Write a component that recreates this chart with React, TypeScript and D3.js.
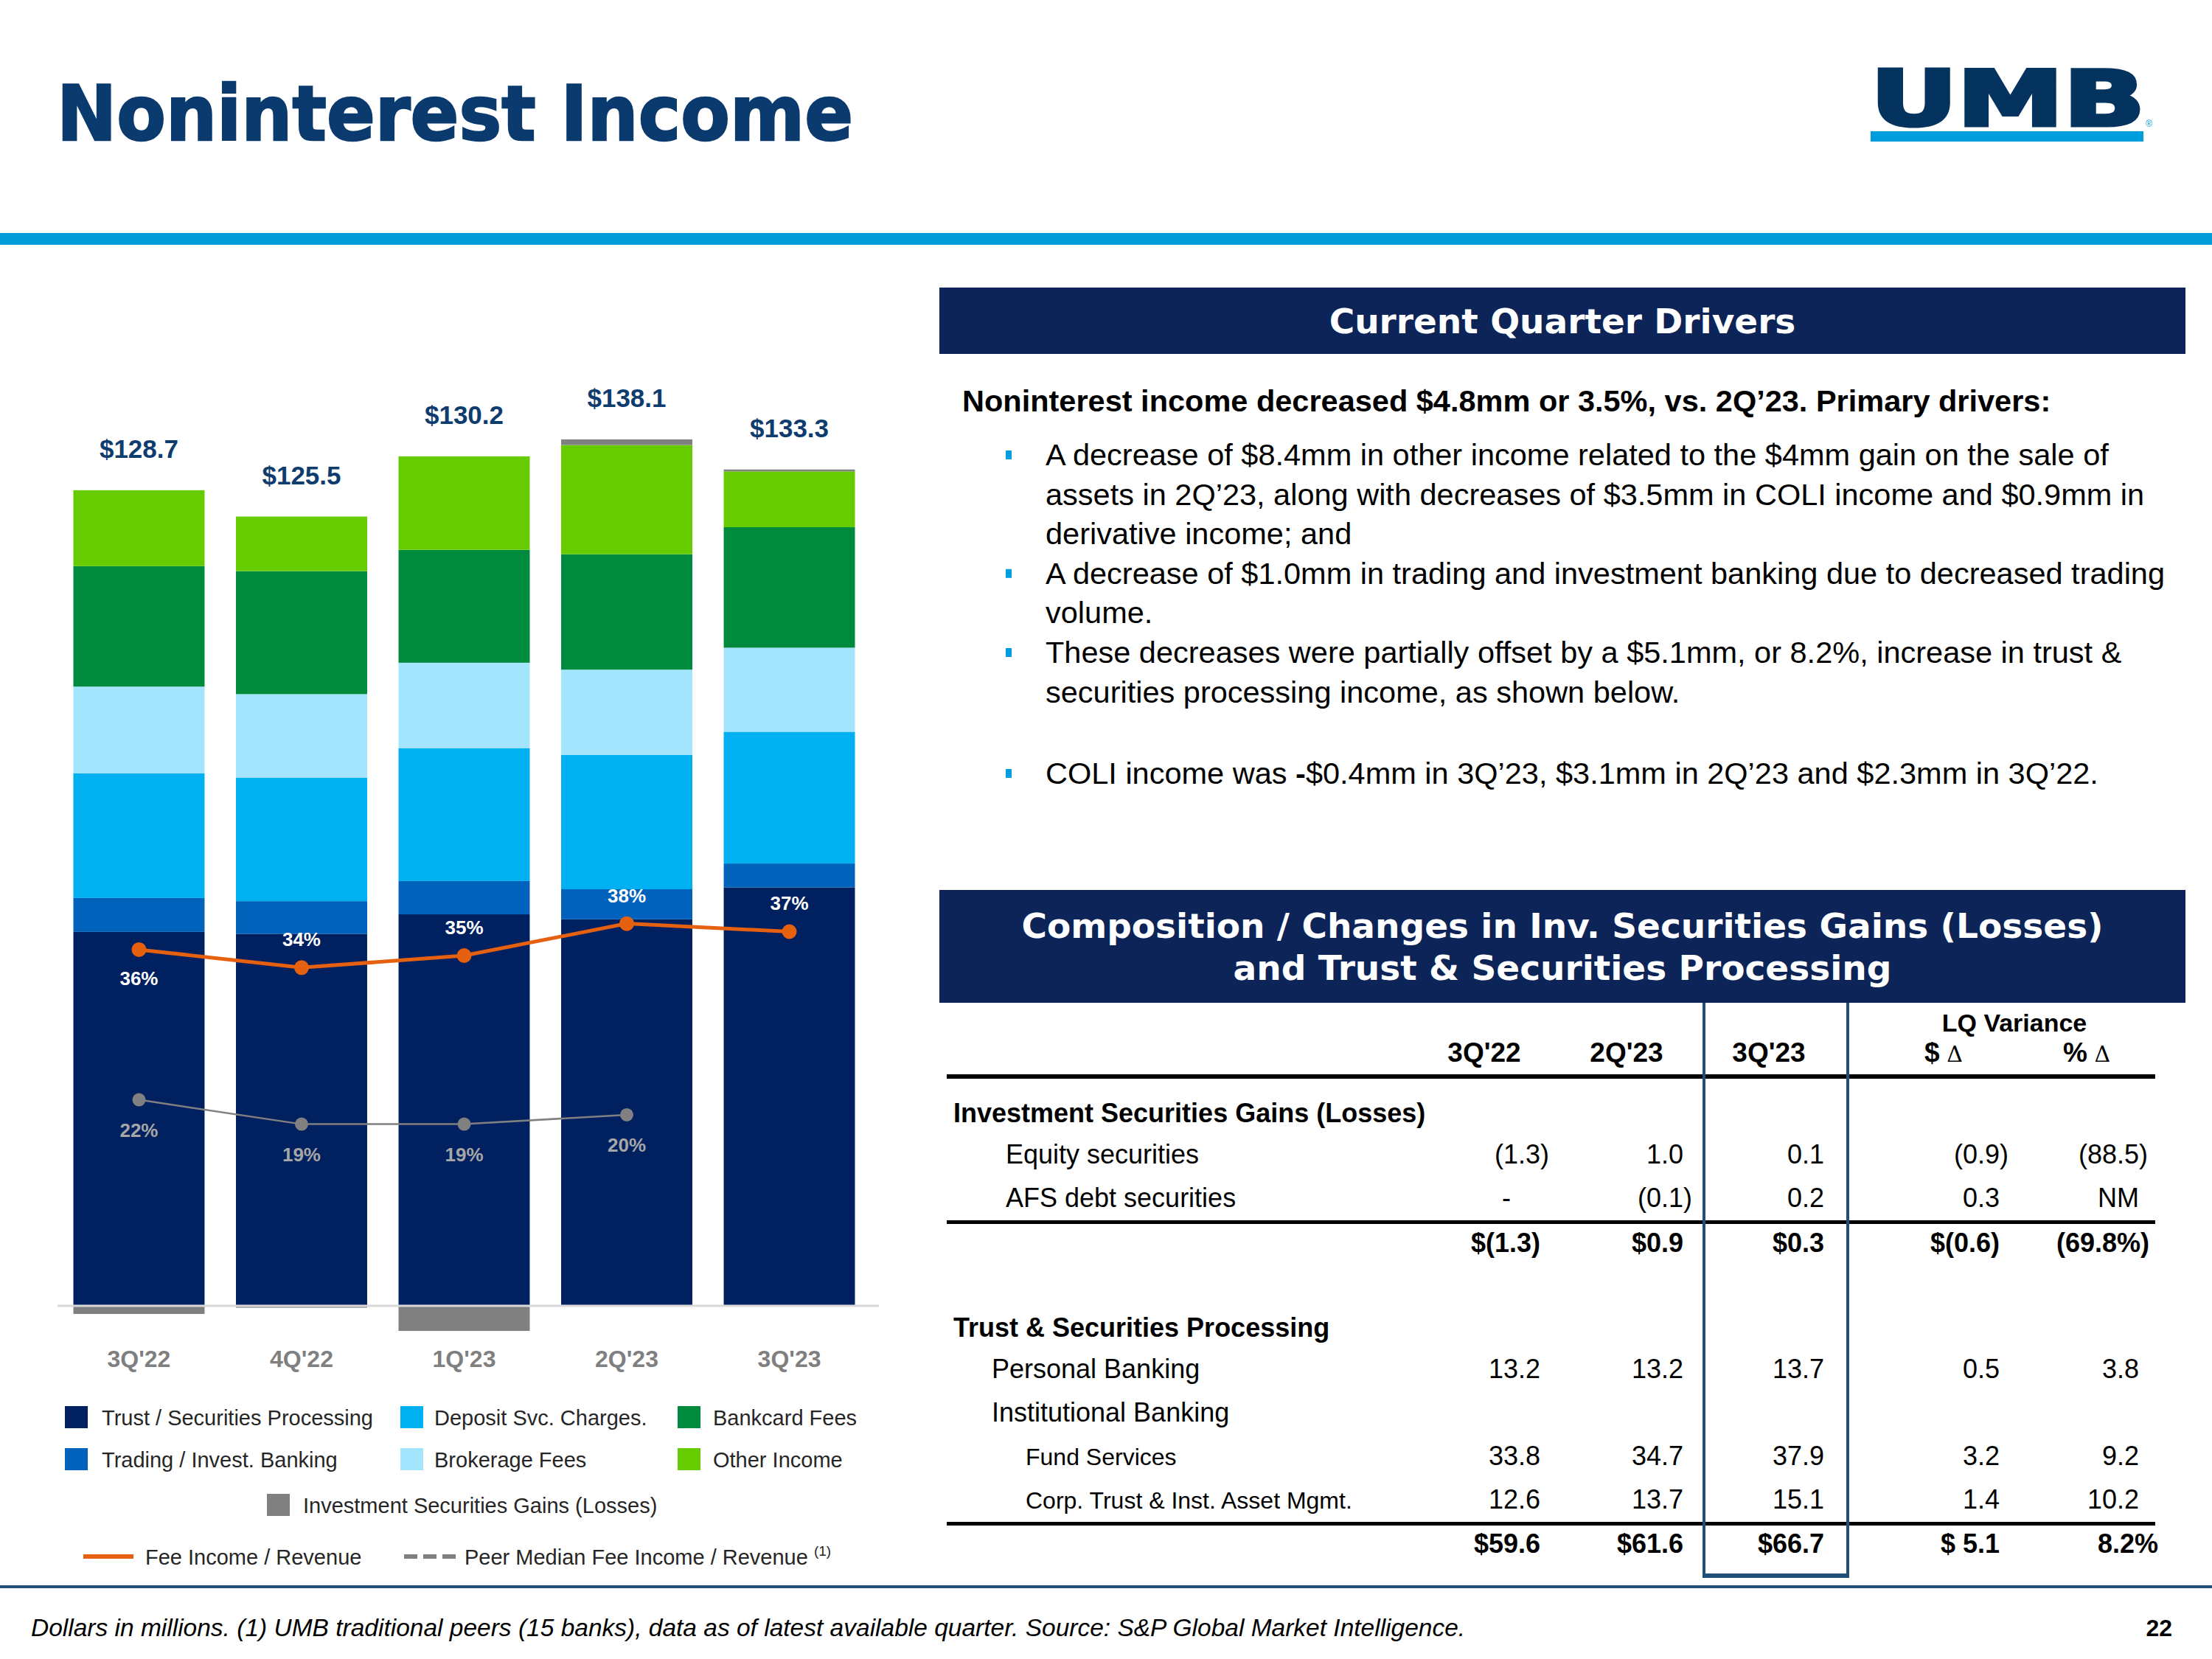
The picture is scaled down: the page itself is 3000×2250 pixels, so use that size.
import React from "react";
import * as d3 from "d3";

// ---------------- DATA ----------------
const quarters = ["3Q'22", "4Q'22", "1Q'23", "2Q'23", "3Q'23"];
const trustSecProcessing = [59.6, 59.3, 62.4, 61.6, 66.7];
const tradingInvBanking = [5.4, 5.2, 5.3, 4.8, 3.8];
const depositSvcCharges = [19.9, 19.7, 21.2, 21.4, 21.0];
const brokerageFees = [13.8, 13.3, 13.6, 13.6, 13.4];
const bankcardFees = [19.2, 19.6, 18.0, 18.4, 19.2];
const otherIncome = [12.1, 8.7, 14.9, 17.4, 8.9];
const invSecGains = [-1.3, -0.3, -4.0, 0.9, 0.3];
const totalLabels = ["$128.7", "$125.5", "$130.2", "$138.1", "$133.3"];

const feeIncomeRatio = [0.356, 0.338, 0.35, 0.382, 0.374];
const feeIncomeLabels = ["36%", "34%", "35%", "38%", "37%"];
const feeLabelBelow = [true, false, false, false, false];
const peerMedianRatio: (number | null)[] = [0.22, 0.194, 0.194, 0.204, null];
const peerMedianLabels = ["22%", "19%", "19%", "20%", ""];

const seriesKeys = ["trust", "trading", "deposit", "brokerage", "bankcard", "other", "gains"];
const seriesNames = [
  "Trust / Securities Processing",
  "Trading / Invest. Banking",
  "Deposit Svc. Charges.",
  "Brokerage Fees",
  "Bankcard Fees",
  "Other Income",
  "Investment Securities Gains (Losses)",
];
const seriesColors = ["#002060", "#0062BA", "#00B0F0", "#A3E5FC", "#008A3E", "#66CC00", "#808080"];

// table
const tableColHeaders = ["3Q'22", "2Q'23", "3Q'23", "$ \u0394", "% \u0394"];
const equitySecurities = ["(1.3)", "1.0", "0.1", "(0.9)", "(88.5)"];
const afsDebtSecurities = ["-", "(0.1)", "0.2", "0.3", "NM"];
const invGainsTotal = ["$(1.3)", "$0.9", "$0.3", "$(0.6)", "(69.8%)"];
const personalBanking = ["13.2", "13.2", "13.7", "0.5", "3.8"];
const fundServices = ["33.8", "34.7", "37.9", "3.2", "9.2"];
const corpTrustAssetMgmt = ["12.6", "13.7", "15.1", "1.4", "10.2"];
const trustTotal = ["$59.6", "$61.6", "$66.7", "$ 5.1", "8.2%"];

const bulletLines = [
  { t: "A decrease of $8.4mm in other income related to the $4mm gain on the sale of", b: true },
  { t: "assets in 2Q\u201923, along with decreases of $3.5mm in COLI income and $0.9mm in", b: false },
  { t: "derivative income; and", b: false },
  { t: "A decrease of $1.0mm in trading and investment banking due to decreased trading", b: true },
  { t: "volume.", b: false },
  { t: "These decreases were partially offset by a $5.1mm, or 8.2%, increase in trust &", b: true },
  { t: "securities processing income, as shown below.", b: false },
];

const FONT = "'Liberation Sans', Arial, Helvetica, sans-serif";
const HEAVY = "'DejaVu Sans', Verdana, sans-serif";
const NAVY_BOX = "#0C2457";

export default function App() {
  const W = 3000;
  const H = 2250;
  const base = 1771;
  const pxPerUnit = 8.509;

  const x = d3
    .scaleBand<string>()
    .domain(quarters)
    .range([78, 1181])
    .paddingInner(0.193)
    .paddingOuter(0.0975);
  const y = d3.scaleLinear().domain([0, 140]).range([base, base - 140 * pxPerUnit]);
  const feeY = d3.scaleLinear().domain([0, 0.4]).range([base, base - 0.4 * 1357]);
  const peerY = d3.scaleLinear().domain([0, 0.25]).range([base, base - 0.25 * 1270]);

  const rows = quarters.map((q, i) => ({
    q,
    trust: trustSecProcessing[i],
    trading: tradingInvBanking[i],
    deposit: depositSvcCharges[i],
    brokerage: brokerageFees[i],
    bankcard: bankcardFees[i],
    other: otherIncome[i],
    gains: invSecGains[i],
  }));
  const stacked = d3
    .stack<any>()
    .keys(seriesKeys)
    .offset(d3.stackOffsetDiverging)(rows);

  const cx = (q: string) => (x(q) as number) + x.bandwidth() / 2;

  const feeLine = d3
    .line<number>()
    .x((_, i) => cx(quarters[i]))
    .y((d) => feeY(d));
  const peerLine = d3
    .line<number | null>()
    .defined((d) => d != null)
    .x((_, i) => cx(quarters[i]))
    .y((d) => peerY(d as number));

  const tops = quarters.map((_, i) => {
    let m = 0;
    stacked.forEach((s) => {
      m = Math.max(m, s[i][1]);
    });
    return m;
  });

  // table layout
  const colEdge = [2089, 2283, 2474, 2712, 2901];
  const colCenter = [2013, 2206, 2399, 2636, 2830];
  const hang = (v: string) => {
    if (v.startsWith("$")) return 0;
    if (v.endsWith("%)")) return 14;
    if (v.endsWith(")")) return 12;
    if (v.endsWith("%")) return 26;
    return 0;
  };
  const tblRows: { label: string; x: number; y: number; bold?: boolean; vals?: string[]; small?: boolean }[] = [
    { label: "Investment Securities Gains (Losses)", x: 1293, y: 1522, bold: true },
    { label: "Equity securities", x: 1364, y: 1578, vals: equitySecurities },
    { label: "AFS debt securities", x: 1364, y: 1637, vals: afsDebtSecurities },
    { label: "", x: 1293, y: 1698, bold: true, vals: invGainsTotal },
    { label: "Trust & Securities Processing", x: 1293, y: 1813, bold: true },
    { label: "Personal Banking", x: 1345, y: 1869, vals: personalBanking },
    { label: "Institutional Banking", x: 1345, y: 1928 },
    { label: "Fund Services", x: 1391, y: 1987, vals: fundServices, small: true },
    { label: "Corp. Trust & Inst. Asset Mgmt.", x: 1391, y: 2046, vals: corpTrustAssetMgmt, small: true },
    { label: "", x: 1293, y: 2106, bold: true, vals: trustTotal },
  ];

  const bulletY0 = 631;
  const lineGap = 53.6;
  const BODY = 41.5;
  const LEG = 29;

  const legendRows = [
    { idx: [0, 2, 4], y: 1922 },
    { idx: [1, 3, 5], y: 1979 },
  ];
  const legendCols = [88, 543, 919];
  const legendTextOff = [50, 46, 48];

  return (
    <svg
      width={W}
      height={H}
      viewBox={`0 0 ${W} ${H}`}
      style={{ position: "absolute", left: 0, top: 0, background: "#fff" }}
      fontFamily={FONT}
    >
      <rect x={0} y={0} width={W} height={H} fill="#fff" />

      {/* Title */}
      <text
        x={77}
        y={190}
        fontFamily={HEAVY}
        fontWeight={700}
        fontSize={103}
        fill="#0B3A6E"
        stroke="#0B3A6E"
        strokeWidth={2.5}
        textLength={1080}
        lengthAdjust="spacingAndGlyphs"
      >
        Noninterest Income
      </text>

      {/* Logo */}
      <text
        x={2537}
        y={170}
        fontFamily={HEAVY}
        fontWeight={700}
        fontSize={103}
        fill="#05335F"
        stroke="#05335F"
        strokeWidth={5}
        textLength={372}
        lengthAdjust="spacingAndGlyphs"
      >
        UMB
      </text>
      <rect x={2537} y={178} width={370} height={14} fill="#009DDC" />
      <text x={2910} y={172} fontSize={12} fill="#009DDC">
        ®
      </text>

      {/* top rule */}
      <rect x={0} y={316} width={W} height={16} fill="#029CD8" />

      {/* ------------- Chart ------------- */}
      {stacked.map((s, si) => (
        <g key={si} fill={seriesColors[si]}>
          {s.map((d, i) => {
            const y0 = y(Math.max(d[0], d[1]));
            const y1 = y(Math.min(d[0], d[1]));
            if (Math.abs(y1 - y0) < 0.01) return null;
            return (
              <rect
                key={i}
                x={x(quarters[i])}
                y={y0}
                width={x.bandwidth()}
                height={y1 - y0}
              />
            );
          })}
        </g>
      ))}
      <line x1={78} x2={1192} y1={base} y2={base} stroke="#D9D9D9" strokeWidth={3} />

      {/* total labels */}
      {quarters.map((q, i) => (
        <text
          key={q}
          x={cx(q)}
          y={y(tops[i]) - 44}
          textAnchor="middle"
          fontWeight={700}
          fontSize={35}
          fill="#0F3C6E"
        >
          {totalLabels[i]}
        </text>
      ))}

      {/* peer median line */}
      <path d={peerLine(peerMedianRatio) || ""} fill="none" stroke="#808080" strokeWidth={2.5} />
      {peerMedianRatio.map((v, i) =>
        v == null ? null : (
          <g key={i}>
            <circle cx={cx(quarters[i])} cy={peerY(v)} r={9} fill="#808080" />
            <text
              x={cx(quarters[i])}
              y={peerY(v) + 50}
              textAnchor="middle"
              fontWeight={700}
              fontSize={26}
              fill="#A6A6A6"
            >
              {peerMedianLabels[i]}
            </text>
          </g>
        )
      )}

      {/* fee income line */}
      <path d={feeLine(feeIncomeRatio) || ""} fill="none" stroke="#E5600F" strokeWidth={5} />
      {feeIncomeRatio.map((v, i) => (
        <g key={i}>
          <circle cx={cx(quarters[i])} cy={feeY(v)} r={10} fill="#E5600F" />
          <text
            x={cx(quarters[i])}
            y={feeLabelBelow[i] ? feeY(v) + 48 : feeY(v) - 29}
            textAnchor="middle"
            fontWeight={700}
            fontSize={26}
            fill="#FFFFFF"
          >
            {feeIncomeLabels[i]}
          </text>
        </g>
      ))}

      {/* category labels */}
      {quarters.map((q) => (
        <text key={q} x={cx(q)} y={1854} textAnchor="middle" fontWeight={700} fontSize={32} fill="#7F7F7F">
          {q}
        </text>
      ))}

      {/* legend */}
      {legendRows.map((r, ri) =>
        r.idx.map((si, ci) => (
          <g key={`${ri}-${ci}`}>
            <rect x={legendCols[ci]} y={r.y - 15} width={31} height={30} fill={seriesColors[si]} />
            <text x={legendCols[ci] + legendTextOff[ci]} y={r.y + 10.5} fontSize={LEG} fill="#262626">
              {seriesNames[si]}
            </text>
          </g>
        ))
      )}
      <rect x={362} y={2041 - 15} width={31} height={30} fill={seriesColors[6]} />
      <text x={411} y={2051.5} fontSize={LEG} fill="#262626">
        {seriesNames[6]}
      </text>
      <line x1={113} x2={181} y1={2111} y2={2111} stroke="#E5600F" strokeWidth={6} />
      <text x={197} y={2121.5} fontSize={LEG} fill="#262626">
        Fee Income / Revenue
      </text>
      <line
        x1={548}
        x2={618}
        y1={2111}
        y2={2111}
        stroke="#7F7F7F"
        strokeWidth={6}
        strokeDasharray="18 8"
      />
      <text x={630} y={2121.5} fontSize={LEG} fill="#262626">
        Peer Median Fee Income / Revenue
        <tspan fontSize={19} dx={8} dy={-12}>
          (1)
        </tspan>
      </text>

      {/* ------------- Right panel ------------- */}
      <rect x={1274} y={390} width={1690} height={90} fill={NAVY_BOX} />
      <text
        x={2119}
        y={452}
        textAnchor="middle"
        fontFamily={HEAVY}
        fontWeight={700}
        fontSize={47}
        fill="#fff"
      >
        Current Quarter Drivers
      </text>

      <text x={1305} y={558} fontWeight={700} fontSize={BODY} fill="#000">
        Noninterest income decreased $4.8mm or 3.5%, vs. 2Q{"\u2019"}23. Primary drivers:
      </text>
      {bulletLines.map((l, i) => (
        <g key={i}>
          {l.b && <rect x={1364} y={bulletY0 + i * lineGap - 20} width={8} height={12} fill="#00A0E0" />}
          <text x={1418} y={bulletY0 + i * lineGap} fontSize={BODY} fill="#000">
            {l.t}
          </text>
        </g>
      ))}
      <rect x={1364} y={1063 - 20} width={8} height={12} fill="#00A0E0" />
      <text x={1418} y={1063} fontSize={BODY} fill="#000">
        COLI income was <tspan fontWeight={700}>-</tspan>$0.4mm in 3Q{"\u2019"}23, $3.1mm in 2Q{"\u2019"}23 and
        $2.3mm in 3Q{"\u2019"}22.
      </text>

      <rect x={1274} y={1207} width={1690} height={153} fill={NAVY_BOX} />
      <text x={2119} y={1272} textAnchor="middle" fontFamily={HEAVY} fontWeight={700} fontSize={47} fill="#fff">
        Composition / Changes in Inv. Securities Gains (Losses)
      </text>
      <text x={2119} y={1329} textAnchor="middle" fontFamily={HEAVY} fontWeight={700} fontSize={47} fill="#fff">
        and Trust &amp; Securities Processing
      </text>

      {/* table */}
      <text x={2732} y={1399} textAnchor="middle" fontWeight={700} fontSize={34} fill="#000">
        LQ Variance
      </text>
      {tableColHeaders.map((h, i) => {
        if (i >= 3) {
          const [sym, tri] = h.split(" ");
          return (
            <text key={h} x={colCenter[i]} y={1440} textAnchor="middle" fontSize={37} fill="#000">
              <tspan fontWeight={700}>{sym}</tspan>
              <tspan fontFamily="'DejaVu Serif', serif" fontSize={30}> {tri}</tspan>
            </text>
          );
        }
        return (
          <text key={h} x={colCenter[i]} y={1440} textAnchor="middle" fontWeight={700} fontSize={37} fill="#000">
            {h}
          </text>
        );
      })}
      <rect x={1284} y={1457} width={1639} height={6} fill="#000" />
      <rect x={1284} y={1655} width={1639} height={5} fill="#000" />
      <rect x={1284} y={2064} width={1639} height={5} fill="#000" />
      {tblRows.map((r, ri) => (
        <g key={ri}>
          {r.label && (
            <text
              x={r.x}
              y={r.y}
              fontWeight={r.bold ? 700 : 400}
              fontSize={r.small ? 32 : 36}
              fill="#000"
            >
              {r.label}
            </text>
          )}
          {r.vals &&
            r.vals.map((v, ci) =>
              v === "-" ? (
                <text key={ci} x={colEdge[ci] - 46} y={r.y} textAnchor="middle" fontSize={36} fill="#000">
                  -
                </text>
              ) : (
                <text
                  key={ci}
                  x={colEdge[ci] + hang(v)}
                  y={r.y}
                  textAnchor="end"
                  fontWeight={r.bold ? 700 : 400}
                  fontSize={36}
                  fill="#000"
                >
                  {v}
                </text>
              )
            )}
        </g>
      ))}
      {/* highlight box around current quarter */}
      <line x1={2311} x2={2311} y1={1360} y2={2139} stroke="#1F4E79" strokeWidth={4} />
      <line x1={2506} x2={2506} y1={1360} y2={2139} stroke="#1F4E79" strokeWidth={4} />
      <line x1={2309} x2={2508} y1={2137} y2={2137} stroke="#1F4E79" strokeWidth={6} />

      {/* footer */}
      <rect x={0} y={2150} width={W} height={4} fill="#1F4E79" />
      <text x={42} y={2219} fontStyle="italic" fontSize={33.5} fill="#000">
        Dollars in millions. (1) UMB traditional peers (15 banks), data as of latest available quarter. Source: S&amp;P
        Global Market Intelligence.
      </text>
      <text x={2946} y={2219} textAnchor="end" fontWeight={700} fontSize={32} fill="#000">
        22
      </text>
    </svg>
  );
}
